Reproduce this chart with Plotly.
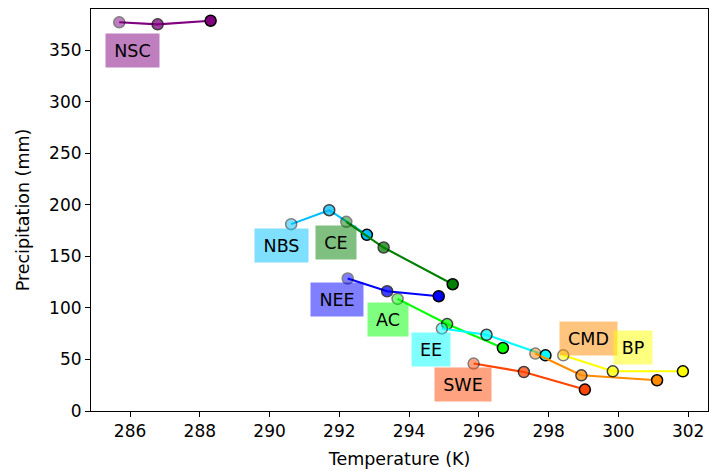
import plotly.graph_objects as go

# Data (temperature K, precipitation mm), three points per region
regions = ["NSC", "NBS", "CE", "NEE", "AC", "EE", "SWE", "CMD", "BP"]
colors = ["#800080", "#00BFFF", "#008000", "#0000FF", "#00FF00",
          "#00FFFF", "#FF4500", "#FF8C00", "#FFFF00"]
temp_NSC = [285.69, 286.79, 288.31]
prec_NSC = [376.9, 374.9, 378.4]
temp_NBS = [290.62, 291.71, 292.79]
prec_NBS = [181.2, 194.7, 170.8]
temp_CE = [292.20, 293.27, 295.25]
prec_CE = [183.4, 158.5, 122.9]
temp_NEE = [292.24, 293.37, 294.85]
prec_NEE = [128.5, 116.1, 111.3]
temp_AC = [293.67, 295.09, 296.69]
prec_AC = [108.7, 84.3, 61.1]
temp_EE = [294.94, 296.22, 297.91]
prec_EE = [80.0, 73.9, 54.0]
temp_SWE = [295.85, 297.29, 299.04]
prec_SWE = [46.0, 37.8, 20.8]
temp_CMD = [297.62, 298.94, 301.11]
prec_CMD = [55.7, 34.6, 29.8]
temp_BP = [298.42, 299.84, 301.85]
prec_BP = [54.0, 38.5, 38.5]

temps = [temp_NSC, temp_NBS, temp_CE, temp_NEE, temp_AC, temp_EE, temp_SWE, temp_CMD, temp_BP]
precs = [prec_NSC, prec_NBS, prec_CE, prec_NEE, prec_AC, prec_EE, prec_SWE, prec_CMD, prec_BP]

# label placement (data coords) and box widths (px)
label_x = [286.07, 290.33, 291.89, 291.94, 293.39, 294.64, 295.55, 299.13, 300.43]
label_y = [349.5, 160.8, 163.4, 108.2, 89.2, 59.9, 25.9, 69.9, 61.1]
label_w = [53, 53, 40, 52, 40, 38, 56, 57, 38]

marker_alpha = [0.5, 0.75, 1.0]

def rgba(hexc, a):
    h = hexc.lstrip("#")
    r, g, b = int(h[0:2], 16), int(h[2:4], 16), int(h[4:6], 16)
    return f"rgba({r},{g},{b},{a})"

FONT = "DejaVu Sans"

fig = go.Figure()
for name, c, t, p in zip(regions, colors, temps, precs):
    fig.add_trace(go.Scatter(x=t, y=p, mode="lines", line=dict(color=c, width=2.1),
                             showlegend=False, hoverinfo="skip"))
    fig.add_trace(go.Scatter(x=t, y=p, mode="markers", name=name,
                             marker=dict(color=c, size=11, opacity=marker_alpha,
                                         line=dict(color="black", width=1.5)),
                             showlegend=False))

for name, c, lx, ly, w in zip(regions, colors, label_x, label_y, label_w):
    fig.add_annotation(x=lx, y=ly, xref="x", yref="y", text=name, showarrow=False,
                       font=dict(family=FONT, size=17.5, color="black"),
                       bgcolor=rgba(c, 0.5), borderpad=0, width=w, height=33,
                       align="center", valign="middle")

axis_common = dict(showline=True, linecolor="black", linewidth=1.1, mirror=True,
                   ticks="outside", ticklen=5, tickwidth=1.1, tickcolor="black",
                   showgrid=False, zeroline=False,
                   tickfont=dict(family=FONT, size=17, color="black"))

fig.update_layout(
    width=709, height=471,
    margin=dict(l=91, r=1, t=9, b=60),
    paper_bgcolor="white", plot_bgcolor="white",
    xaxis=dict(range=[284.88, 302.57], tickmode="linear", tick0=286, dtick=2,
               title=dict(text="Temperature (K)", font=dict(family=FONT, size=17.5, color="black"),
                          standoff=12),
               **axis_common),
    yaxis=dict(range=[0, 389.8], tickmode="linear", tick0=0, dtick=50,
               title=dict(text="Precipitation (mm)", font=dict(family=FONT, size=17.5, color="black"),
                          standoff=14),
               **axis_common),
)

fig.write_html("out.html")
